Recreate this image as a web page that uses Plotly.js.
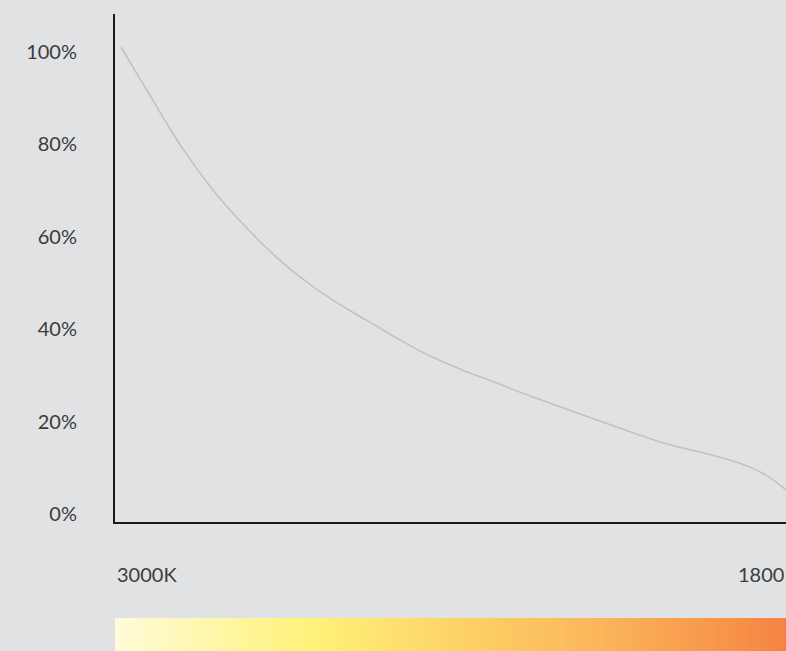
<!DOCTYPE html>
<html>
<head>
<meta charset="utf-8">
<script src="https://cdn.plot.ly/plotly-3.0.1.min.js"></script>
<style>
  html, body { margin: 0; padding: 0; background: #e1e2e4; }
  #chart { width: 786px; height: 651px; }
</style>
</head>
<body>
<div id="chart"></div>
<script>
// Dimming position along the range (0 = 3000K end, 100 = right edge)
const dimPosition = [0.9, 5.0, 9.9, 14.9, 19.9, 24.8, 29.8, 34.8, 38.7, 41.5, 46.5, 51.4, 56.4, 61.4, 66.3, 71.3, 77.2, 82.2, 87.2, 92.2, 95.6, 98.1, 100];
// Light output (%)
const lightOutput = [101.0, 91.1, 79.5, 69.6, 61.5, 54.6, 48.9, 44.2, 40.9, 38.5, 34.5, 31.4, 28.6, 25.8, 23.2, 20.6, 17.6, 15.2, 13.4, 11.4, 9.5, 7.4, 5.2];

const yTickVals = [0, 20, 40, 60, 80, 100];
const yTickText = ["0%", "20%", "40%", "60%", "80%", "100%"];
const kelvinLabels = ["3000K", "1800K"];
const kelvinLabelPos = [0, 92.5];

// Colour temperature gradient stops
const gradientPos = [0, 0.29, 0.5, 0.72, 1];
const gradientColors = ["#fffbd9", "#fff27a", "#fdd468", "#fbb65a", "#f58443"];

const gradX = [];
for (let i = 0; i <= 200; i++) gradX.push(i / 2);

const curve = {
  x: dimPosition,
  y: lightOutput,
  type: "scatter",
  mode: "lines",
  line: { color: "#c2c2c2", width: 1.6, shape: "spline", smoothing: 1 },
  hoverinfo: "skip",
  xaxis: "x",
  yaxis: "y"
};

const gradient = {
  type: "heatmap",
  x: gradX,
  y: [0],
  z: [gradX],
  colorscale: gradientPos.map((p, i) => [p, gradientColors[i]]),
  showscale: false,
  zmin: 0,
  zmax: 100,
  hoverinfo: "skip",
  xaxis: "x",
  yaxis: "y2"
};

const font = { family: "Lato, 'Open Sans', sans-serif", size: 20, color: "#3c3c3c" };

const layout = {
  width: 786,
  height: 651,
  margin: { l: 115, r: 0, t: 14, b: 0 },
  paper_bgcolor: "#e1e2e4",
  plot_bgcolor: "rgba(0,0,0,0)",
  showlegend: false,
  font: font,
  xaxis: {
    range: [0, 100],
    domain: [0, 1],
    anchor: "y",
    showgrid: false,
    zeroline: false,
    showticklabels: false,
    ticks: "",
    showline: true,
    linecolor: "#1a1a1a",
    linewidth: 2,
    fixedrange: true
  },
  yaxis: {
    domain: [0.2025, 1],
    range: [-1.73, 108.2],
    tickmode: "array",
    tickvals: yTickVals,
    ticktext: yTickText,
    ticks: "outside",
    ticklen: 32,
    tickcolor: "rgba(0,0,0,0)",
    showgrid: false,
    zeroline: false,
    showline: true,
    linecolor: "#1a1a1a",
    linewidth: 2,
    tickfont: font,
    fixedrange: true
  },
  yaxis2: {
    domain: [0, 0.0518],
    anchor: "x",
    range: [-0.5, 0.5],
    visible: false,
    fixedrange: true
  },
  annotations: kelvinLabels.map((t, i) => ({
    text: t,
    x: kelvinLabelPos[i],
    xref: "x",
    xanchor: "left",
    y: 0.1209,
    yref: "paper",
    yanchor: "middle",
    showarrow: false,
    font: font
  }))
};

Plotly.newPlot("chart", [gradient, curve], layout, { displayModeBar: false, staticPlot: true });
</script>
</body>
</html>
